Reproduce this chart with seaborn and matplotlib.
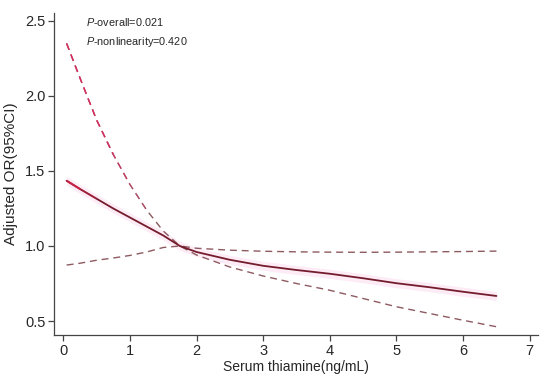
import numpy as np
import pandas as pd
import seaborn as sns
import matplotlib.pyplot as plt

# values
thiamine = [0.05, 0.25, 0.5, 0.75, 1.0, 1.25, 1.5, 1.75, 2.0, 2.5, 3.0, 3.5, 4.0, 4.5, 5.0, 5.5, 6.0, 6.5]
or_est = [1.435, 1.38, 1.315, 1.25, 1.19, 1.13, 1.07, 1.0, 0.96, 0.908, 0.868, 0.84, 0.815, 0.785, 0.752, 0.725, 0.695, 0.667]
ci_a = [2.35, 2.12, 1.84, 1.61, 1.41, 1.24, 1.10, 1.0, 0.94, 0.86, 0.80, 0.75, 0.705, 0.65, 0.595, 0.55, 0.505, 0.462]
ci_b = [0.873, 0.885, 0.905, 0.92, 0.937, 0.96, 0.99, 1.0, 0.985, 0.972, 0.965, 0.961, 0.959, 0.958, 0.959, 0.961, 0.963, 0.966]

x_ticks = [0, 1, 2, 3, 4, 5, 6, 7]
y_ticks = [0.5, 1.0, 1.5, 2.0, 2.5]

df = pd.DataFrame({"x": thiamine, "est": or_est, "a": ci_a, "b": ci_b})

sns.set_style("ticks")
plt.rcParams["font.family"] = ["Liberation Sans", "DejaVu Sans"]
plt.rcParams["mathtext.fontset"] = "custom"
plt.rcParams["mathtext.it"] = "Liberation Sans:italic"
plt.rcParams["mathtext.rm"] = "Liberation Sans"

fig = plt.figure(figsize=(5.5, 3.81), dpi=100)
ax = fig.add_axes([0.0987, 0.12, 0.879, 0.846])

maroon = "#741c2c"
crimson = "#dc2a5e"
greybrown = "#8d5a60"
dash = (5, 3.5)

# faint pink band around the estimate
ax.fill_between(df.x, df.est - 0.03, df.est + 0.03, color="#fdebf6", lw=0)

# base lines
sns.lineplot(data=df, x="x", y="b", ax=ax, color=greybrown, lw=1.0, linestyle=(0, dash))
sns.lineplot(data=df, x="x", y="a", ax=ax, color=greybrown, lw=1.0, linestyle=(0, dash))
sns.lineplot(data=df, x="x", y="est", ax=ax, color=maroon, lw=1.3)

# red tint fading out along the start of the curves
for n, alpha in [(6, 0.35), (5, 0.45), (4, 0.7)]:
    part = df.iloc[:n]
    ax.plot(part.x, part.a, color=crimson, lw=1.0, linestyle=(0, dash), alpha=alpha)
for n, alpha in [(3, 0.4), (2, 0.8)]:
    part = df.iloc[:n]
    ax.plot(part.x, part.est, color="#d81e45", lw=1.3, alpha=alpha, solid_capstyle="butt")

ax.set_xlim(-0.135, 7.12)
ax.set_ylim(0.405, 2.553)
ax.set_xticks(x_ticks)
ax.set_yticks(y_ticks)
ax.set_yticklabels([f"{v:.1f}" for v in y_ticks])
ax.tick_params(labelsize=10.5, length=4.5, width=0.9, color="#444444", pad=2)
for s in ["left", "bottom"]:
    ax.spines[s].set_color("#444444")
    ax.spines[s].set_linewidth(0.9)
sns.despine(ax=ax)

ax.set_xlabel("Serum thiamine(ng/mL)", fontsize=10, labelpad=1)
ax.set_ylabel("Adjusted OR(95%CI)", fontsize=11, labelpad=5)

ax.text(0.34, 2.49, "$\\mathit{P}$-overall=0.021", fontsize=7.8, va="center")
ax.text(0.34, 2.36, "$\\mathit{P}$-nonlinearity=0.420", fontsize=7.8, va="center")

fig.savefig("out.png", dpi=100)
